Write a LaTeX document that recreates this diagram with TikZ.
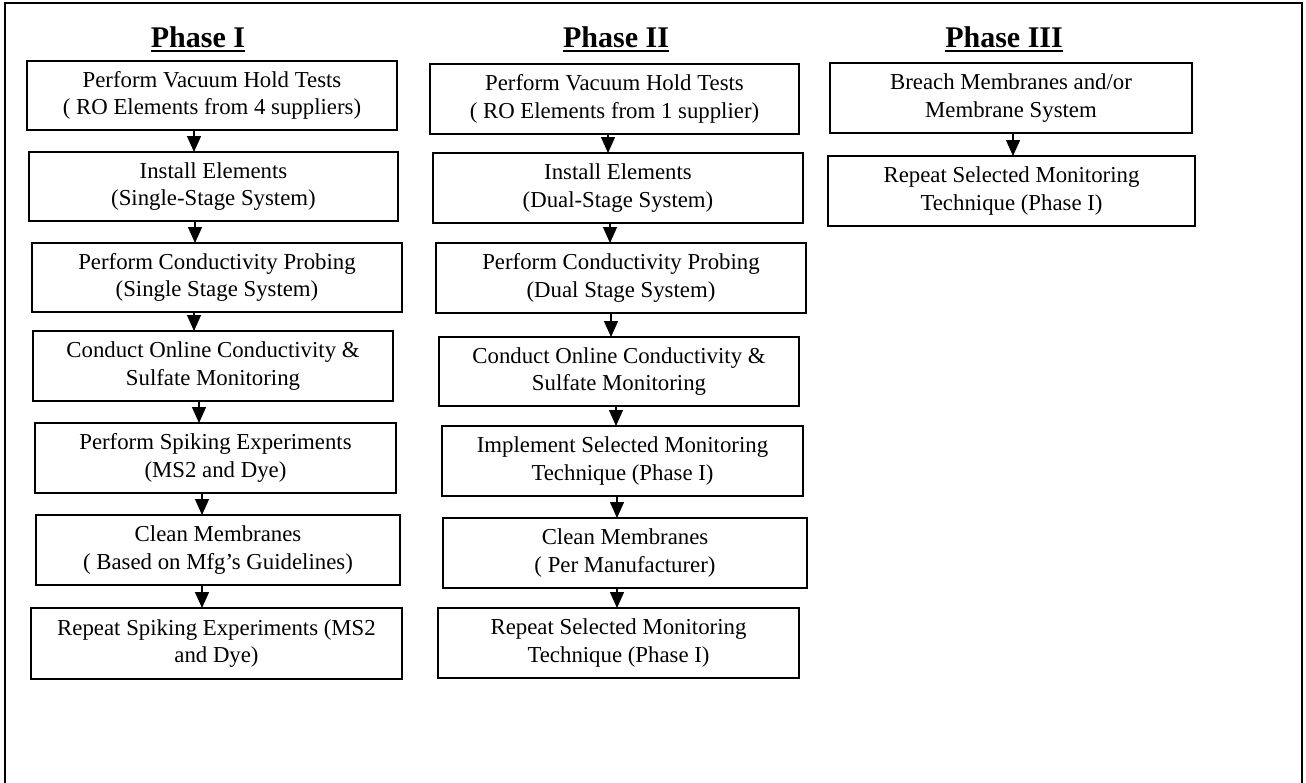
\documentclass[tikz,border=0pt]{standalone}
\usepackage{fontspec}
\setmainfont{Liberation Serif}
\usetikzlibrary{arrows.meta}
\tikzset{
  stepbox/.style={draw, line width=1.6pt, inner sep=0pt, outer sep=0pt, align=center,
    font=\fontsize{22.8}{27.5}\selectfont},
  phasetitle/.style={inner sep=0pt, anchor=base, font=\fontsize{30}{36}\selectfont\bfseries},
  uline/.style={line width=2pt},
  arr/.style={line width=1.4pt, -{Triangle[width=14pt,length=16pt]}},
  frame/.style={line width=2pt}
}
\begin{document}
\begin{tikzpicture}[x=1pt,y=-1pt]
\useasboundingbox (0,0) rectangle (1306,782);
\draw[frame] (5,790) -- (5,3) -- (1302,3) -- (1302,790);

% titles
\node[phasetitle] (t1) at (198,47) {Phase I};
\node[phasetitle] (t2) at (616,47) {Phase II};
\node[phasetitle] (t3) at (1004,47) {Phase III};
\foreach \t in {t1,t2,t3}
  \draw[uline] ([yshift=-4pt]\t.base west) -- ([yshift=-4pt]\t.base east);

% Phase I
\node[stepbox, minimum width=370pt, minimum height=69pt] (p1a) at (212,95.5) {Perform Vacuum Hold Tests\\( RO Elements from 4 suppliers)};
\node[stepbox, minimum width=369pt, minimum height=69pt] (p1b) at (213.5,186.5) {Install Elements\\(Single-Stage System)};
\node[stepbox, minimum width=370pt, minimum height=69pt] (p1c) at (217,277.5) {Perform Conductivity Probing\\(Single Stage System)};
\node[stepbox, minimum width=360pt, minimum height=70pt] (p1d) at (213,366) {Conduct Online Conductivity \&\\Sulfate Monitoring};
\node[stepbox, minimum width=361pt, minimum height=70pt] (p1e) at (215.5,458) {Perform Spiking Experiments\\(MS2 and Dye)};
\node[stepbox, minimum width=364pt, minimum height=70pt] (p1f) at (218,550) {Clean Membranes\\( Based on Mfg’s Guidelines)};
\node[stepbox, minimum width=371pt, minimum height=71pt] (p1g) at (216.5,643.5) {Repeat Spiking Experiments (MS2\\and Dye)};

% Phase II
\node[stepbox, minimum width=369pt, minimum height=70pt] (p2a) at (614.5,99) {Perform Vacuum Hold Tests\\( RO Elements from 1 supplier)};
\node[stepbox, minimum width=370pt, minimum height=70pt] (p2b) at (618,188) {Install Elements\\(Dual-Stage System)};
\node[stepbox, minimum width=370pt, minimum height=70pt] (p2c) at (621,278) {Perform Conductivity Probing\\(Dual Stage System)};
\node[stepbox, minimum width=360pt, minimum height=69pt] (p2d) at (619,371.5) {Conduct Online Conductivity \&\\Sulfate Monitoring};
\node[stepbox, minimum width=361pt, minimum height=70pt] (p2e) at (622.5,461) {Implement Selected Monitoring\\Technique (Phase I)};
\node[stepbox, minimum width=364pt, minimum height=70pt] (p2f) at (625,553) {Clean Membranes\\( Per Manufacturer)};
\node[stepbox, minimum width=361pt, minimum height=70pt] (p2g) at (618.5,643) {Repeat Selected Monitoring\\Technique (Phase I)};

% Phase III
\node[stepbox, minimum width=362pt, minimum height=70pt] (p3a) at (1011,98) {Breach Membranes and/or\\Membrane System};
\node[stepbox, minimum width=367pt, minimum height=70pt] (p3b) at (1011.5,191) {Repeat Selected Monitoring\\Technique (Phase I)};

% arrows
\foreach \u/\v/\o in {p1a/p1b/-18, p1b/p1c/-18.5, p1c/p1d/-23, p1d/p1e/-14, p1e/p1f/-13.5, p1f/p1g/-16,
                      p2a/p2b/-6.5, p2b/p2c/-8, p2c/p2d/-10, p2d/p2e/-3, p2e/p2f/-5.5, p2f/p2g/-8,
                      p3a/p3b/2}
  \draw[arr] ([xshift=\o pt]\u.south) -- ([xshift=\o pt]\u.south |- \v.north);
\end{tikzpicture}
\end{document}
